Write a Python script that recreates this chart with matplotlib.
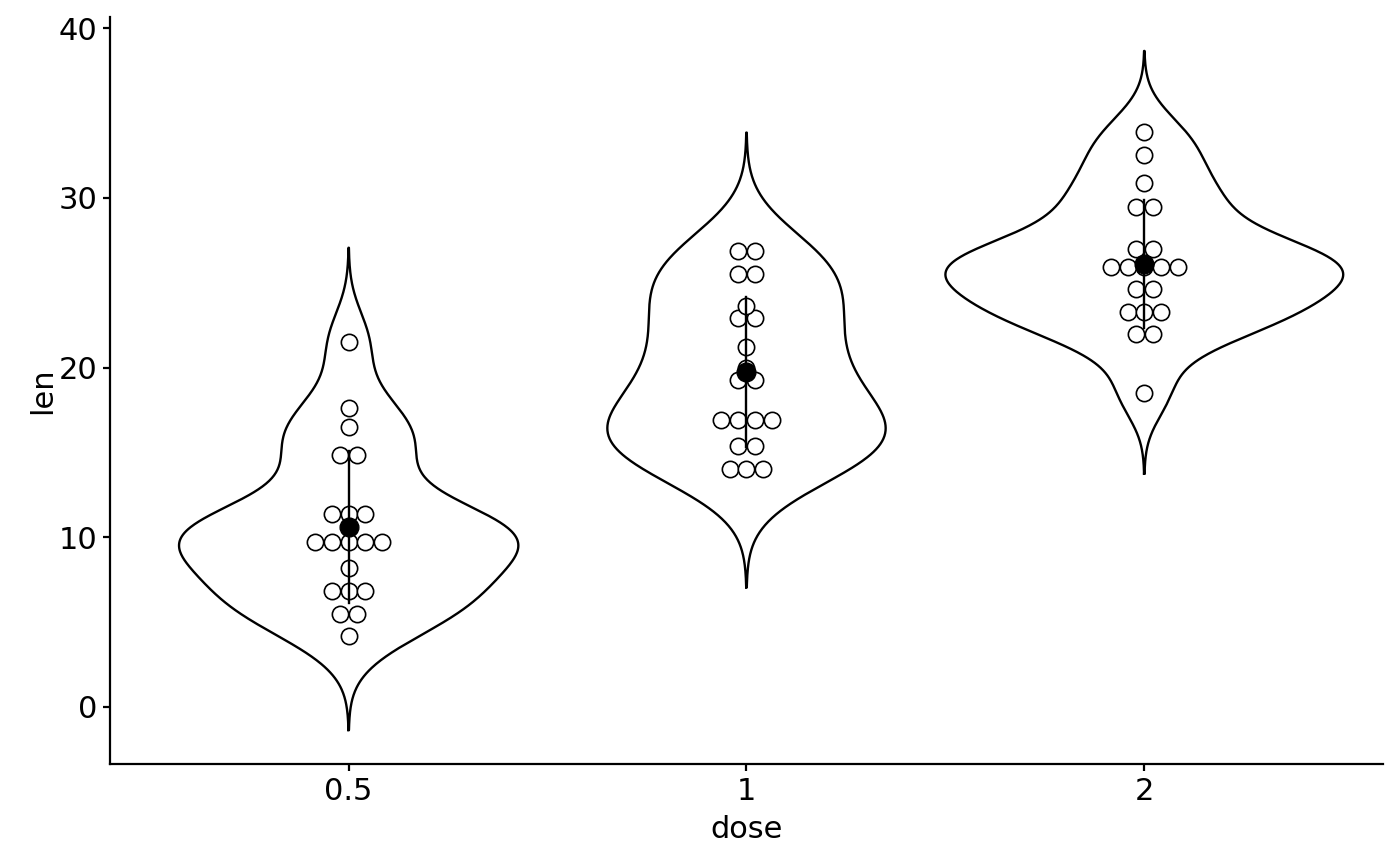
import numpy as np
import matplotlib
matplotlib.use("Agg")
import matplotlib.pyplot as plt

# ToothGrowth: len per dose
doses = ["0.5", "1", "2"]
len_05 = [4.2, 11.5, 7.3, 5.8, 6.4, 10.0, 11.2, 11.2, 5.2, 7.0,
          15.2, 21.5, 17.6, 9.7, 14.5, 10.0, 8.2, 9.4, 16.5, 9.7]
len_1 = [16.5, 16.5, 15.2, 17.3, 22.5, 17.3, 13.6, 14.5, 18.8, 15.5,
         19.7, 23.3, 23.6, 26.4, 20.0, 25.2, 25.8, 21.2, 14.5, 27.3]
len_2 = [23.6, 18.5, 33.9, 25.5, 26.4, 32.5, 26.7, 21.5, 23.3, 29.5,
         25.5, 26.4, 22.4, 24.5, 24.8, 30.9, 26.4, 27.3, 29.4, 23.0]
groups = [np.array(len_05), np.array(len_1), np.array(len_2)]

plt.rcParams['font.family'] = ['DejaVu Sans']

W, H = 1400, 866
fig = plt.figure(figsize=(W / 100, H / 100), dpi=100)
ax = fig.add_axes([110 / W, 1 - 764 / H, (1383 - 110) / W, (764 - 17) / H])


def bw_nrd0(x):
    q75, q25 = np.percentile(x, [75, 25])
    lo = min(np.std(x, ddof=1), (q75 - q25) / 1.34)
    return 0.9 * lo * len(x) ** -0.2


# violin densities (gaussian kde, trim = FALSE)
dens = []
for g in groups:
    bw = bw_nrd0(g)
    yy = np.linspace(g.min() - 3 * bw, g.max() + 3 * bw, 512)
    d = np.exp(-0.5 * ((yy[:, None] - g[None, :]) / bw) ** 2).sum(1)
    d /= len(g) * bw * np.sqrt(2 * np.pi)
    dens.append((yy, d))
dmax = max(d.max() for _, d in dens)

ymin = min(yy.min() for yy, _ in dens)
ymax = max(yy.max() for yy, _ in dens)
pad = (ymax - ymin) * 0.05
ax.set_ylim(ymin - pad, ymax + pad)
ax.set_xlim(0.4, 3.6)

vwidth = 1.0
for i, (yy, d) in enumerate(dens):
    xc = i + 1
    w = d / dmax * vwidth / 2
    xs = np.concatenate([xc - w, (xc + w)[::-1], [xc - w[0]]])
    ys = np.concatenate([yy, yy[::-1], [yy[0]]])
    ax.fill(xs, ys, facecolor="white", edgecolor="none", zorder=1)
    ax.plot(xs, ys, color="black", lw=1.7, zorder=1)

# dotplot (dotdensity binning, centered stacks)
allv = np.concatenate(groups)
binwidth = (allv.max() - allv.min()) / 30
ax_h_px = (764 - 17)
ax_w_px = (1383 - 110)
px_per_y = ax_h_px / (ax.get_ylim()[1] - ax.get_ylim()[0])
px_per_x = ax_w_px / 3.2
diam_px = binwidth * px_per_y
diam_pt = diam_px * 72 / 100
dx = diam_px / px_per_x

for i, g in enumerate(groups):
    vals = np.sort(g)
    j = 0
    while j < len(vals):
        start = vals[j]
        k = j
        while k < len(vals) and vals[k] < start + binwidth:
            k += 1
        b = vals[j:k]
        center = (b.min() + b.max()) / 2
        n = len(b)
        offs = (np.arange(n) - (n - 1) / 2) * dx
        ax.plot(i + 1 + offs, [center] * n, "o", ms=diam_pt * 0.97,
                mfc="white", mec="black", mew=1.2, ls="none", zorder=2)
        j = k

# mean +/- sd
for i, g in enumerate(groups):
    m = g.mean()
    s = g.std(ddof=1)
    ax.plot([i + 1, i + 1], [m - s, m + s], color="black", lw=1.7, zorder=3)
    ax.plot(i + 1, m, "o", ms=13.5, color="black", zorder=4)

ax.set_xticks([1, 2, 3])
ax.set_xticklabels(doses)
ax.set_yticks([0, 10, 20, 30, 40])
for sp in ["top", "right"]:
    ax.spines[sp].set_visible(False)
for sp in ["left", "bottom"]:
    ax.spines[sp].set_linewidth(1.6)
ax.tick_params(length=5, width=1.6, labelsize=22, pad=4, colors="black")
ax.set_xlabel("dose", fontsize=22, labelpad=7)
ax.set_ylabel("len", fontsize=22, labelpad=1)

fig.savefig("out.png", dpi=100)
